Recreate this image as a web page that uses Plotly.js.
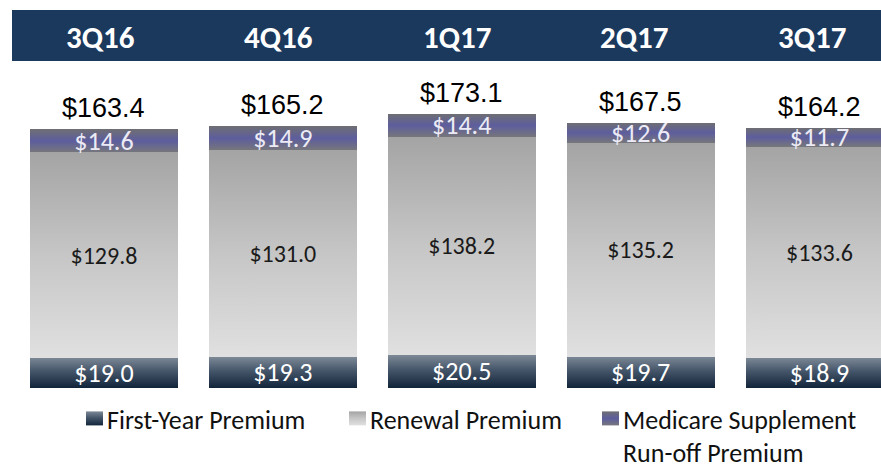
<!DOCTYPE html>
<html><head><meta charset="utf-8">
<script src="https://cdn.plot.ly/plotly-3.0.1.min.js"></script>
<style>html,body{margin:0;padding:0;background:#fff;overflow:hidden}</style>
</head><body><div id="chart" style="width:881px;height:464px"></div>
<script>
// ---- data ----
const quarters = ['3Q16', '4Q16', '1Q17', '2Q17', '3Q17'];
const firstYear = [19.0, 19.3, 20.5, 19.7, 18.9];
const renewal = [129.8, 131.0, 138.2, 135.2, 133.6];
const medicare = [14.6, 14.9, 14.4, 12.6, 11.7];
const seriesNames = ['First-Year Premium', 'Renewal Premium', 'Medicare Supplement<br>Run-off Premium'];

const totals = quarters.map((q, i) => +(firstYear[i] + renewal[i] + medicare[i]).toFixed(1));
const fmt = v => '$' + v.toFixed(1);

const CAL = 'Carlito, Lato, "Noto Sans", sans-serif';
const ARIAL = '"Liberation Sans", Arial, sans-serif';
const W = 881, H = 464;

function barTrace(name, vals, color, font, legend) {
  return {
    type: 'bar', x: quarters, y: vals, name: name,
    text: vals.map(fmt), textposition: 'inside', insidetextanchor: 'middle',
    textangle: 0, constraintext: 'none', insidetextfont: font,
    marker: {color: color, line: {width: 0}},
    legend: legend, hoverinfo: 'skip'
  };
}

const data = [
  barTrace(seriesNames[0], firstYear, '#3a4a5e', {family: CAL, size: 26, color: '#ffffff'}, 'legend'),
  barTrace(seriesNames[1], renewal, '#c4c4c4', {family: CAL, size: 24, color: '#1a1a1a'}, 'legend2'),
  barTrace(seriesNames[2], medicare, '#66668e', {family: CAL, size: 26, color: '#ecebf5'}, 'legend3')
];

const annotations = [];
quarters.forEach((q, i) => {
  annotations.push({
    x: q, y: totals[i], xref: 'x', yref: 'y', text: fmt(totals[i]),
    showarrow: false, yanchor: 'middle', yshift: 21,
    font: {family: ARIAL, size: 27, color: '#000000'}
  });
  annotations.push({
    x: q, xref: 'x', y: 1 - 37 / H, yref: 'paper', text: '<b>' + q + '</b>',
    showarrow: false, yanchor: 'middle', xshift: -3 - 1.1 * i,
    font: {family: CAL, size: 31, color: '#ffffff'}
  });
});

const legFont = {family: CAL, size: 26, color: '#111111'};
function leg(xpx) {
  return {x: xpx / W, y: 1 - 395 / H, xanchor: 'left', yanchor: 'top',
          orientation: 'h', font: legFont, bgcolor: 'rgba(0,0,0,0)', borderwidth: 0,
          valign: 'top', itemclick: false, itemdoubleclick: false};
}

const layout = {
  width: W, height: H,
  margin: {l: 0, r: 0, t: 0, b: 0, pad: 0, autoexpand: false},
  paper_bgcolor: '#ffffff', plot_bgcolor: '#ffffff',
  barmode: 'stack', bargap: 0.173,
  hovermode: false,
  xaxis: {type: 'category', range: [-0.581, 4.344], showgrid: false, zeroline: false,
          showticklabels: false, showline: false, ticks: ''},
  yaxis: {range: [-48.3, 245.2], showgrid: false, zeroline: false,
          showticklabels: false, showline: false, ticks: ''},
  showlegend: true,
  legend: leg(67), legend2: leg(330), legend3: leg(583),
  shapes: [{type: 'rect', xref: 'paper', yref: 'paper', x0: 12 / W, x1: 1,
            y0: 1 - 61 / H, y1: 1 - 10 / H, fillcolor: '#1b385d', line: {width: 0}}],
  annotations: annotations
};

Plotly.newPlot('chart', data, layout, {staticPlot: true, displayModeBar: false}).then(gd => {
  const ns = 'http://www.w3.org/2000/svg';
  const svg = gd.querySelector('svg.main-svg');
  let defs = svg.querySelector('defs');
  if (!defs) { defs = document.createElementNS(ns, 'defs'); svg.insertBefore(defs, svg.firstChild); }
  function grad(id, stops) {
    const lg = document.createElementNS(ns, 'linearGradient');
    lg.setAttribute('id', id);
    lg.setAttribute('x1', '0'); lg.setAttribute('y1', '0');
    lg.setAttribute('x2', '0'); lg.setAttribute('y2', '1');
    stops.forEach(([o, c]) => {
      const s = document.createElementNS(ns, 'stop');
      s.setAttribute('offset', o); s.setAttribute('stop-color', c);
      lg.appendChild(s);
    });
    defs.appendChild(lg);
  }
  grad('g0', [[0, '#7c8896'], [0.45, '#45566a'], [1, '#13253b']]);
  grad('g1', [[0, '#a4a4a4'], [0.5, '#c6c6c6'], [1, '#e0e0e0']]);
  grad('g2', [[0, '#6e6e74'], [0.5, '#5d5d9e'], [1, '#76767c']]);
  gd.querySelectorAll('.barlayer .trace').forEach((t, i) => {
    t.querySelectorAll('.point path').forEach(p => { p.style.fill = 'url(#g' + i + ')'; });
  });
  gd.querySelectorAll('.infolayer .traces').forEach(tr => {
    const cd = tr.__data__;
    const idx = cd && cd[0] && cd[0].trace ? cd[0].trace.index : null;
    tr.querySelectorAll('.legendpoints path').forEach(p => {
      if (idx !== null) p.style.fill = 'url(#g' + idx + ')';
      p.style.stroke = 'none';
      p.setAttribute('d', 'M-1,-7H16V7H-1Z');
    });
  });
});
</script>
</body></html>
